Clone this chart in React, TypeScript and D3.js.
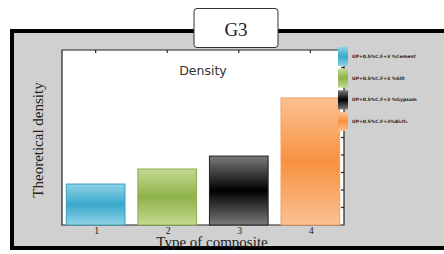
import * as d3 from 'd3'

const categories = ['1', '2', '3', '4']
const densities = [1.17, 1.6, 1.97, 3.63]
const legendLabels = [
  'UP+0.5%C.F+3 %Cement',
  'UP+0.5%C.F+3 %Silt',
  'UP+0.5%C.F+3 %Gypsum',
  'UP+0.5%C.F+3%Al\u2082O\u2083',
]
const rightTicks = [0.5, 1, 1.5, 2, 2.5, 3, 3.5, 4, 4.5]

// light / dark stops for each bar's vertical gradient
const barColors = [
  { light: '#8fd3e8', dark: '#3aa9cc', stroke: '#3a9fb8' },
  { light: '#c3da90', dark: '#8fb24a', stroke: '#8aaa4a' },
  { light: '#7a7a7a', dark: '#000000', stroke: '#222222' },
  { light: '#fbc194', dark: '#f7913f', stroke: '#f0a060' },
]

export default function App() {
  const W = 444
  const H = 254
  const plot = { x0: 62, x1: 344, y0: 50, y1: 225 }

  const x = d3.scaleBand().domain(categories).range([plot.x0, plot.x1]).paddingInner(0.18).paddingOuter(0.06)
  const y = d3.scaleLinear().domain([0, 5]).range([plot.y1, plot.y0])

  const legendY = d3.scaleBand().domain(legendLabels).range([47, 131]).paddingInner(0.12)

  return (
    <svg width={W} height={H} style={{ position: 'absolute', left: 0, top: 0, background: '#fff' }}>
      <defs>
        {barColors.map((c, i) => (
          <linearGradient key={i} id={`g${i}`} x1="0" y1="0" x2="0" y2="1">
            <stop offset="0" stopColor={c.light} />
            <stop offset="0.5" stopColor={c.dark} />
            <stop offset="1" stopColor={c.light} />
          </linearGradient>
        ))}
      </defs>

      {/* outer frame */}
      <rect x={12} y={31} width={440} height={217} fill="#d0d0d0" stroke="#000" strokeWidth={4} />

      {/* title box */}
      <rect x={194} y={8.5} width={84} height={39} rx={3} fill="#fff" stroke="#333" strokeWidth={1} />
      <text x={236} y={36} textAnchor="middle" fontFamily="Liberation Serif" fontSize={19} fill="#222">G3</text>

      {/* plot area */}
      <rect x={plot.x0} y={plot.y0} width={plot.x1 - plot.x0} height={plot.y1 - plot.y0} fill="#fff" />
      <path d={`M${plot.x0},${plot.y1}V${plot.y0}H${plot.x1}V${plot.y1}Z`} fill="none" stroke="#222" strokeWidth={1.2} />

      {categories.map(c => (
        <line key={c} x1={x(c)! + x.bandwidth() / 2} x2={x(c)! + x.bandwidth() / 2} y1={plot.y0} y2={plot.y0 + 3} stroke="#222" strokeWidth={1.2} />
      ))}
      {rightTicks.map(t => (
        <line key={t} x1={plot.x1} x2={plot.x1 - 3} y1={y(t)} y2={y(t)} stroke="#222" strokeWidth={1.2} />
      ))}

      <text x={203} y={75} textAnchor="middle" fontFamily="DejaVu Sans" fontSize={12.5} fill="#333">Density</text>

      {categories.map((c, i) => (
        <rect
          key={c}
          x={x(c)!}
          y={y(densities[i])}
          width={x.bandwidth()}
          height={y(0) - y(densities[i])}
          fill={`url(#g${i})`}
          stroke={barColors[i].stroke}
          strokeWidth={1}
        />
      ))}

      {categories.map(c => (
        <text key={c} x={x(c)! + x.bandwidth() / 2 + 1} y={234} textAnchor="middle" fontFamily="Liberation Serif" fontSize={10} fill="#222">{c}</text>
      ))}

      <text x={212} y={247} textAnchor="middle" fontFamily="Liberation Serif" fontSize={15} fill="#222">Type of composite</text>
      <text transform="translate(43,140) rotate(-90)" textAnchor="middle" fontFamily="Liberation Serif" fontSize={15} fill="#222">Theoretical density</text>

      {/* legend */}
      {legendLabels.map((l, i) => (
        <g key={l}>
          <rect x={338} y={legendY(l)!} width={10} height={legendY.bandwidth()} fill={`url(#g${i})`} />
          <text x={352} y={legendY(l)! + legendY.bandwidth() / 2 + 1.5} fontFamily="DejaVu Sans" fontSize={4.5} fontWeight="bold" fill="#222">{l}</text>
        </g>
      ))}
    </svg>
  )
}
